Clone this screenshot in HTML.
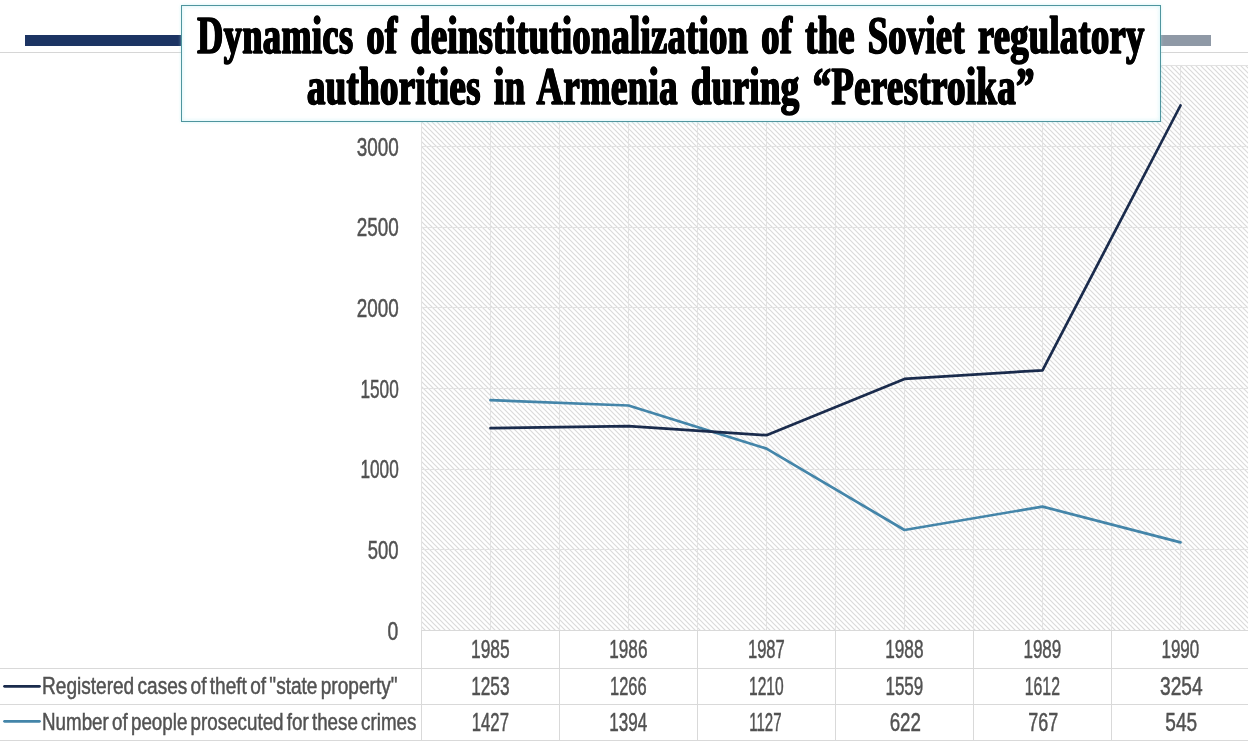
<!DOCTYPE html>
<html><head><meta charset="utf-8"><title>Dynamics of deinstitutionalization</title>
<style>
html,body{margin:0;padding:0;background:#fff;}
body{width:1248px;height:742px;position:relative;overflow:hidden;font-family:"Liberation Sans",sans-serif;color:#525252;}
.abs{position:absolute;}
#hr{left:0;top:52px;width:1248px;height:1px;background:#d6d6d6;}
#navy{left:25px;top:35px;width:156px;height:11px;background:#1c3463;}
#gray{left:1160px;top:35px;width:51px;height:11px;background:#8f99a6;}
#title{left:181px;top:5px;width:978px;height:115px;border:1px solid #4f959e;background:#fff;box-shadow:0 0 3px rgba(170,235,240,.55),inset 0 0 4px rgba(170,235,240,.55);}
.tl{position:absolute;left:-0.5px;width:978px;height:56px;font:bold 53px/56px "Liberation Serif",serif;color:#000;white-space:nowrap;word-spacing:5px;letter-spacing:.8px;}
.tl span{position:absolute;left:50%;top:0;transform:translateX(-50%) scaleX(.738);transform-origin:center;-webkit-text-stroke:1.5px #000;text-shadow:1.2px 0 0 #000,-1.2px 0 0 #000;}
svg{position:absolute;left:0;top:0;}
.yl,.c,.lg{position:absolute;height:28px;font-size:25.5px;line-height:28px;white-space:nowrap;-webkit-text-stroke:0.5px #525252;}
.yl{left:200px;width:198.5px;text-align:right;}
.yl span{display:inline-block;transform:scaleX(.745);transform-origin:right center;}
.c{width:138px;text-align:center;}
.c span{display:inline-block;transform:scaleX(.735);transform-origin:center;}
.lg{left:42.4px;word-spacing:-2.5px;font-size:23.7px;}
.lg span{display:inline-block;transform:scaleX(.735);transform-origin:left center;}
</style></head><body>
<svg width="1248" height="742" viewBox="0 0 1248 742">
<defs><pattern id="h" width="5" height="5" patternUnits="userSpaceOnUse">
<path d="M-1,-1 L6,6 M-1,4 L1,6 M4,-1 L6,1" stroke="#dadada" stroke-width="1.2" fill="none"/></pattern></defs>
<rect x="421.5" y="65" width="826.5" height="565.3" fill="url(#h)"/>
<g stroke="#e2e2e2" stroke-width="1"><line x1="421.5" y1="65" x2="421.5" y2="630.3"/><line x1="490.5" y1="65" x2="490.5" y2="630.3"/><line x1="559.5" y1="65" x2="559.5" y2="630.3"/><line x1="628.5" y1="65" x2="628.5" y2="630.3"/><line x1="697.5" y1="65" x2="697.5" y2="630.3"/><line x1="766.5" y1="65" x2="766.5" y2="630.3"/><line x1="835.5" y1="65" x2="835.5" y2="630.3"/><line x1="904.5" y1="65" x2="904.5" y2="630.3"/><line x1="973.5" y1="65" x2="973.5" y2="630.3"/><line x1="1042.5" y1="65" x2="1042.5" y2="630.3"/><line x1="1111.5" y1="65" x2="1111.5" y2="630.3"/><line x1="1180.5" y1="65" x2="1180.5" y2="630.3"/><line x1="421.5" y1="630.5" x2="1248" y2="630.5"/><line x1="421.5" y1="549.5" x2="1248" y2="549.5"/><line x1="421.5" y1="469.5" x2="1248" y2="469.5"/><line x1="421.5" y1="388.5" x2="1248" y2="388.5"/><line x1="421.5" y1="307.5" x2="1248" y2="307.5"/><line x1="421.5" y1="227.5" x2="1248" y2="227.5"/><line x1="421.5" y1="146.5" x2="1248" y2="146.5"/><line x1="421.5" y1="65.5" x2="1248" y2="65.5"/></g>
<g stroke="#d9d9d9" stroke-width="1" fill="none">
<line x1="421.5" y1="630.5" x2="1248" y2="630.5"/>
<line x1="0" y1="668.5" x2="1248" y2="668.5"/>
<line x1="0" y1="704.5" x2="1248" y2="704.5"/>
<line x1="0" y1="740.5" x2="1248" y2="740.5"/>
<line x1="421.5" y1="630" x2="421.5" y2="741"/><line x1="559.5" y1="630" x2="559.5" y2="741"/><line x1="697.5" y1="630" x2="697.5" y2="741"/><line x1="835.5" y1="630" x2="835.5" y2="741"/><line x1="973.5" y1="630" x2="973.5" y2="741"/><line x1="1111.5" y1="630" x2="1111.5" y2="741"/>
</g>
<polyline points="490.5,400.2 628.5,405.5 766.5,448.6 904.5,530.0 1042.5,506.6 1180.5,542.4" fill="none" stroke="#4485a9" stroke-width="2.7" stroke-linecap="round" stroke-linejoin="round"/>
<polyline points="490.5,428.2 628.5,426.1 766.5,435.2 904.5,378.9 1042.5,370.3 1180.5,105.5" fill="none" stroke="#1a2b4c" stroke-width="2.7" stroke-linecap="round" stroke-linejoin="round"/>
<line x1="4.5" y1="686.3" x2="39.5" y2="686.3" stroke="#1a2b4c" stroke-width="2.7" stroke-linecap="round"/>
<line x1="4.5" y1="721.3" x2="39.5" y2="721.3" stroke="#4485a9" stroke-width="2.7" stroke-linecap="round"/>
</svg>
<div class="abs" id="hr"></div>
<div class="abs" id="navy"></div>
<div class="abs" id="gray"></div>
<div class="abs" id="title">
<div class="tl" style="top:1px"><span style="transform:translateX(-50%) scaleX(.679)">Dynamics of deinstitutionalization of the Soviet regulatory</span></div>
<div class="tl" style="top:52px"><span style="transform:translateX(-50%) scaleX(.687)">authorities in Armenia during “Perestroika”</span></div>
</div>
<div class="yl" style="top:132.8px"><span style="transform:scaleX(0.740)">3000</span></div>
<div class="yl" style="top:213.4px"><span style="transform:scaleX(0.740)">2500</span></div>
<div class="yl" style="top:294.1px"><span style="transform:scaleX(0.740)">2000</span></div>
<div class="yl" style="top:374.7px"><span style="transform:scaleX(0.676)">1500</span></div>
<div class="yl" style="top:455.3px"><span style="transform:scaleX(0.676)">1000</span></div>
<div class="yl" style="top:536.0px"><span style="transform:scaleX(0.724)">500</span></div>
<div class="yl" style="top:616.6px"><span style="transform:scaleX(0.758)">0</span></div>

<div class="c" style="left:420.9px;top:635.2px"><span style="transform:scaleX(0.683)">1985</span></div><div class="c" style="left:558.9px;top:635.2px"><span style="transform:scaleX(0.672)">1986</span></div><div class="c" style="left:696.9px;top:635.2px"><span style="transform:scaleX(0.650)">1987</span></div><div class="c" style="left:834.9px;top:635.2px"><span style="transform:scaleX(0.676)">1988</span></div><div class="c" style="left:972.9px;top:635.2px"><span style="transform:scaleX(0.667)">1989</span></div><div class="c" style="left:1110.9px;top:635.2px"><span style="transform:scaleX(0.667)">1990</span></div>

<div class="c" style="left:420.9px;top:672.2px"><span style="transform:scaleX(0.676)">1253</span></div><div class="c" style="left:558.9px;top:672.2px"><span style="transform:scaleX(0.644)">1266</span></div><div class="c" style="left:696.9px;top:672.2px"><span style="transform:scaleX(0.611)">1210</span></div><div class="c" style="left:834.9px;top:672.2px"><span style="transform:scaleX(0.667)">1559</span></div><div class="c" style="left:972.9px;top:672.2px"><span style="transform:scaleX(0.619)">1612</span></div><div class="c" style="left:1112.2px;top:672.2px"><span style="transform:scaleX(0.751)">3254</span></div>

<div class="c" style="left:420.9px;top:708.1px"><span style="transform:scaleX(0.654)">1427</span></div><div class="c" style="left:558.9px;top:708.1px"><span style="transform:scaleX(0.670)">1394</span></div><div class="c" style="left:696.9px;top:708.1px"><span style="transform:scaleX(0.590)">1127</span></div><div class="c" style="left:836.2px;top:708.1px"><span style="transform:scaleX(0.735)">622</span></div><div class="c" style="left:974.2px;top:708.1px"><span style="transform:scaleX(0.703)">767</span></div><div class="c" style="left:1112.2px;top:708.1px"><span style="transform:scaleX(0.749)">545</span></div>

<div class="lg" style="top:672.2px"><span style="transform:scaleX(.805)">Registered cases of theft of "state property"</span></div>
<div class="lg" style="top:708.2px"><span style="transform:scaleX(.793)">Number of people prosecuted for these crimes</span></div>
</body></html>
